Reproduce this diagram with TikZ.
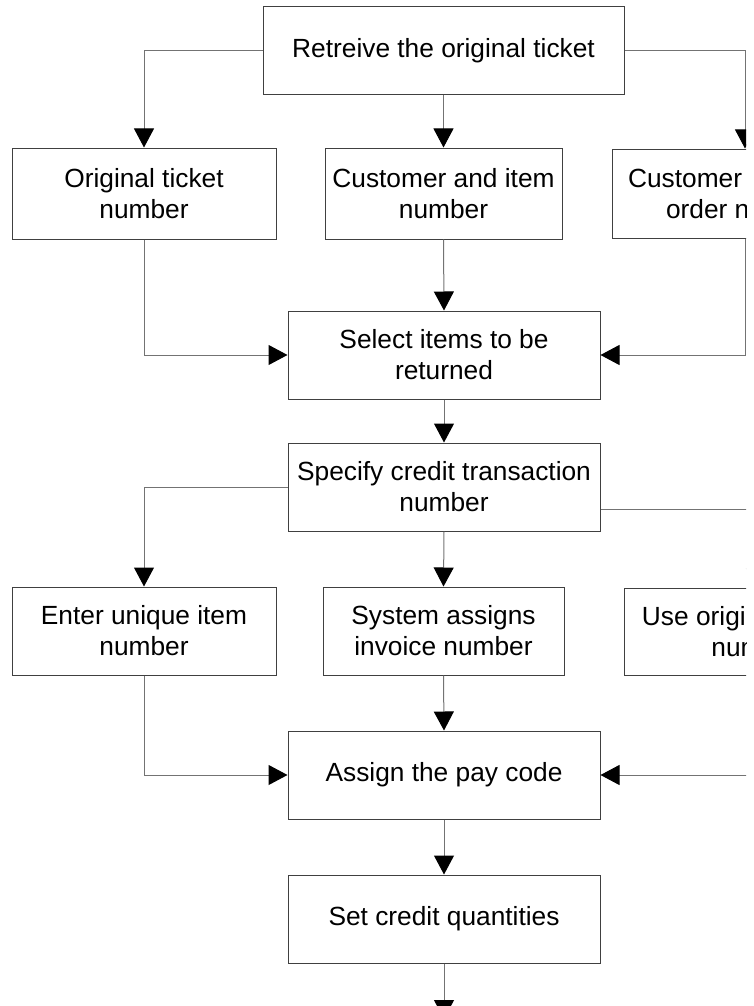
\documentclass[tikz,border=0pt]{standalone}
\usepackage{fontspec}
\setmainfont{Liberation Sans}
\usetikzlibrary{arrows.meta}
\tikzset{
  stepbox/.style={draw=black!75,line width=1pt,minimum height=88pt,align=center,
    font=\fontsize{26.3}{31}\selectfont},
  link/.style={draw=black!55,line width=1pt,-{Triangle[length=19pt,width=20pt,black]}}
}
\begin{document}
\begin{tikzpicture}[x=1pt,y=-1pt]
                \useasboundingbox (0,0) rectangle (754,1006);
                \clip (0,0) rectangle (746,1006);
                \node[stepbox,minimum width=361pt] (ret) at (443.5,51) {Retreive the original ticket};
                \node[stepbox,minimum width=264pt,minimum height=91pt] (orig) at (144,193.5) {Original ticket\\number};
                \node[stepbox,minimum width=237pt,minimum height=91pt] (cust) at (443.5,193.5) {Customer and item\\number};
                \node[stepbox,minimum width=266pt,minimum height=89pt] (sales) at (745,193.5) {Customer and sales\\order number};
                \node[stepbox,minimum width=312pt] (sel) at (444,355) {Select items to be\\returned};
                \node[stepbox,minimum width=312pt] (spec) at (444,487) {Specify credit transaction\\number};
                \node[stepbox,minimum width=264pt] (enter) at (144,631) {Enter unique item\\number};
                \node[stepbox,minimum width=241pt] (sys) at (443.5,631) {System assigns\\invoice number};
                \node[stepbox,minimum width=264pt,minimum height=87pt] (use) at (756,631.5) {Use original invoice\\number};
                \node[stepbox,minimum width=312pt] (pay) at (444,775) {Assign the pay code};
                \node[stepbox,minimum width=312pt] (set) at (444,919) {Set credit quantities};
                \coordinate (next) at (444,1019);
                \draw[link] (ret.west) -| (orig.north);
                \draw[link] (ret.south) -- (cust.north);
                \draw[link] (ret.east) -| (sales.north);
                \draw[link] (orig.south) |- (sel.west);
                \draw[link] (cust.south) -- (sel.north);
                \draw[link] (sales.south) |- (sel.east);
                \draw[link] (sel.south) -- (spec.north);
                \draw[link] (spec.west) -| (enter.north);
                \draw[link] (spec.south) -- (sys.north);
                \draw[link] ([yshift=-22pt]spec.east) -| (use.north);
                \draw[link] (enter.south) |- (pay.west);
                \draw[link] (sys.south) -- (pay.north);
                \draw[link] (use.south) |- (pay.east);
                \draw[link] (pay.south) -- (set.north);
                \draw[link] (set.south) -- (next);
            \end{tikzpicture}
\end{document}
